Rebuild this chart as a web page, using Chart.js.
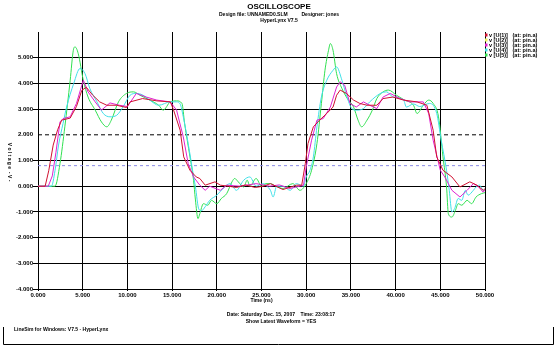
<!DOCTYPE html>
<html>
<head>
<meta charset="utf-8">
<script src="https://cdn.jsdelivr.net/npm/chart.js@4.4.0/dist/chart.umd.min.js"></script>
<style>
  html, body { margin: 0; padding: 0; background: #fff; }
  #scope { display: block; }
</style>
</head>
<body>
<canvas id="scope" width="558" height="350"></canvas>
<script>
// Probe traces, time in ns / voltage in V
const redTime = [0, 0.8, 1.2, 1.7, 2.2, 2.65, 3.6, 4.3, 4.9, 5.4, 6.1, 6.9, 7.7, 8.8, 9.9, 10.3, 11.7, 13.3, 14.8, 15.1, 15.9, 16.3, 17.0, 17.7, 18.1, 18.7, 19.8, 20.4, 21.3, 22.2, 23.2, 24.3, 25.2, 26.0, 27.4, 28.9, 29.5, 29.9, 30.2, 30.8, 31.5, 32.3, 33.0, 33.4, 33.8, 34.5, 35.3, 36.0, 36.8, 37.9, 38.6, 39.7, 40.9, 42.4, 43.5, 44.2, 44.6, 45.3, 46.3, 47.2, 48.3, 49.1, 49.8, 50];
const redVolt = [0, 0, 0.6, 1.6, 2.2, 2.57, 2.65, 3.1, 3.73, 3.85, 3.55, 3.28, 3.15, 3.15, 3.06, 3.28, 3.41, 3.32, 3.28, 3.03, 2.18, 1.14, 0.62, 0.36, 0.3, 0.04, 0.17, 0.04, 0.0, -0.05, 0.05, -0.05, 0.0, 0.1, -0.13, 0.04, 0.04, 0.88, 1.66, 2.31, 2.57, 2.83, 3.08, 3.54, 3.74, 3.61, 3.35, 3.22, 3.15, 3.15, 3.41, 3.47, 3.35, 3.28, 3.15, 2.18, 1.14, 0.62, 0.36, -0.03, 0.17, 0.04, -0.16, -0.1];

const magentaTime = [0, 1.15, 1.6, 2.0, 2.46, 2.8, 3.6, 4.3, 4.9, 5.07, 5.6, 6.4, 7.1, 8.05, 9.1, 10.0, 11.0, 12.1, 13.3, 14.8, 15.5, 16.25, 16.8, 17.4, 18.1, 18.7, 19.2, 20.4, 21.1, 22.6, 24.4, 25.9, 27.0, 28.2, 29.7, 30.0, 30.6, 31.2, 31.9, 32.7, 33.4, 33.8, 34.3, 34.9, 35.6, 36.4, 37.1, 37.9, 38.6, 39.4, 40.5, 41.6, 43.1, 43.7, 44.2, 45.0, 45.5, 46.3, 47.2, 48.0, 48.7, 49.2, 49.8, 50];
const magentaVolt = [0, 0, 0.4, 1.3, 2.5, 2.63, 2.7, 3.22, 3.93, 4.12, 3.67, 3.28, 2.96, 3.24, 3.15, 3.1, 3.61, 3.47, 3.35, 3.28, 2.96, 1.92, 0.88, 0.36, 0.04, -0.16, 0, -0.16, 0.04, 0.0, 0.1, 0.0, 0.05, -0.09, 0.04, 0.75, 1.79, 2.57, 2.63, 3.08, 3.86, 4.06, 3.93, 3.22, 3.08, 3.28, 3.15, 3.02, 3.47, 3.61, 3.41, 3.28, 3.28, 2.83, 1.79, 0.62, 0.36, -0.16, -0.42, -0.16, 0.1, 0, -0.23, -0.15];

const cyanTime = [0, 1.5, 1.9, 2.3, 2.8, 3.2, 4.0, 4.7, 5.26, 5.8, 6.6, 7.3, 8.05, 8.8, 9.5, 10.3, 11.0, 11.7, 12.5, 13.5, 14.8, 15.5, 15.9, 16.25, 16.8, 17.3, 17.6, 18.0, 18.3, 18.7, 19.2, 20.0, 20.7, 21.5, 22.2, 23.0, 23.7, 24.4, 25.2, 25.6, 26.0, 26.3, 26.7, 27.4, 28.2, 28.9, 29.7, 30.0, 30.4, 30.8, 31.2, 31.7, 32.3, 33.0, 33.4, 34.0, 34.5, 35.1, 35.6, 36.4, 37.1, 38.3, 39.0, 39.7, 40.9, 41.2, 42.0, 42.7, 43.8, 44.6, 45.1, 45.7, 46.0, 46.3, 46.6, 47.0, 47.4, 47.8, 48.1, 48.7, 49.0, 49.4, 49.8, 50];
const cyanVolt = [0, 0, 0.6, 1.6, 2.44, 3.08, 4.0, 4.58, 4.38, 3.8, 3.28, 2.83, 2.7, 2.76, 3.08, 3.54, 3.61, 3.55, 3.35, 3.15, 3.28, 3.28, 3.2, 2.7, 1.66, 0.6, 0.0, -0.9, -0.95, -0.8, -0.55, -0.35, -0.09, 0.1, -0.16, 0.23, 0.36, 0, 0.1, 0.0, -0.16, -0.42, 0, 0.0, -0.16, 0.1, 0, 0.36, 0.6, 1.14, 2.31, 3.47, 4.12, 4.51, 4.64, 4.12, 3.54, 3.02, 2.96, 3.02, 3.28, 3.61, 3.67, 3.47, 3.35, 3.08, 3.2, 3.1, 3.22, 2.83, 1.79, 0.62, -0.16, -1.0, -0.87, -0.48, -0.55, -0.16, -0.35, -0.16, -0.03, 0.04, -0.16, -0.1];

const greenTime = [0, 1.9, 2.46, 3.0, 3.6, 3.95, 4.14, 4.5, 5.07, 5.6, 6.4, 7.1, 7.7, 8.2, 9.0, 9.9, 10.7, 11.4, 12.5, 13.5, 14.0, 14.8, 15.5, 16.1, 16.4, 17.0, 17.4, 17.6, 17.9, 18.1, 18.5, 19.0, 19.4, 20.0, 20.5, 21.1, 21.7, 22.0, 22.4, 23.0, 23.4, 23.7, 24.4, 25.0, 25.5, 26.0, 26.6, 27.4, 28.5, 29.3, 30.0, 30.6, 31.2, 31.7, 32.1, 32.5, 32.7, 33.0, 33.4, 34.0, 34.6, 35.3, 35.8, 36.2, 36.8, 37.4, 37.9, 38.6, 39.2, 40.1, 41.0, 42.0, 42.4, 43.1, 43.7, 44.2, 44.8, 45.3, 45.7, 45.9, 46.3, 46.7, 47.0, 47.4, 48.0, 48.5, 49.0, 49.6, 50];
const greenVolt = [0, 0, 0.88, 2.31, 4.12, 5.29, 5.42, 5.16, 4.12, 3.47, 2.96, 2.5, 2.31, 2.57, 3.28, 3.61, 3.67, 3.54, 3.35, 3.15, 2.96, 3.28, 3.32, 3.22, 2.44, 1.14, 0.23, -0.5, -1.26, -1.07, -0.68, -0.74, -0.55, -0.68, -0.48, -0.29, 0.17, 0.3, 0.17, -0.03, 0.23, 0, 0.3, 0.0, 0.1, 0.1, 0.0, -0.09, 0.1, -0.16, 0.1, 0.62, 1.66, 3.22, 4.51, 5.29, 5.55, 5.29, 4.38, 3.8, 3.41, 3.08, 2.57, 2.31, 2.57, 2.96, 3.41, 3.67, 3.74, 3.54, 3.35, 3.15, 2.83, 3.15, 3.35, 3.22, 2.7, 1.14, -0.03, -1.07, -1.2, -0.93, -0.68, -0.74, -0.55, -0.68, -0.42, -0.29, -0.25];

// cursor levels (V) and axis ranges
const cursorHigh = 2.0;
const cursorLow = 0.8;
const timeTicks = [0, 5, 10, 15, 20, 25, 30, 35, 40, 45, 50];
const voltTicks = [-4, -3, -2, -1, 0, 1, 2, 3, 4, 5, 6];

const legendLabels = [
    'v [U(1)]   (at: pin.a)',
    'v [U(2)]   (at: pin.a)',
    'v [U(3)]   (at: pin.a)',
    'v [U(4)]   (at: pin.a)',
    'v [U(5)]   (at: pin.a)'
];
const legendColors = ['#d01030', '#f0f060', '#e020d0', '#40e0e8', '#30e050'];

const toPoints = (t, v) => t.map((x, i) => ({ x: x, y: v[i] }));

const trace = (label, color, t, v, smooth) => ({
    label: label,
    data: toPoints(t, v),
    borderColor: color,
    backgroundColor: color,
    borderWidth: 1,
    pointRadius: 0,
    showLine: true,
    cubicInterpolationMode: smooth ? 'monotone' : 'default',
    tension: 0,
    order: 1
});

const cursor = (level, color, dash) => ({
    label: 'cursor',
    data: [{ x: timeTicks[0], y: level }, { x: timeTicks[timeTicks.length - 1], y: level }],
    borderColor: color,
    borderWidth: 1,
    borderDash: dash,
    pointRadius: 0,
    showLine: true,
    order: 10
});

// titles, legend, axis captions and footer box
const scopeText = {
    id: 'scopeText',
    afterDraw(chart) {
        const ctx = chart.ctx;
        const area = chart.chartArea;
        ctx.save();
        ctx.fillStyle = '#000';
        ctx.textBaseline = 'middle';
        ctx.textAlign = 'center';

        ctx.font = "bold 8px 'Liberation Sans'";
        ctx.fillText('OSCILLOSCOPE', 279, 7);
        ctx.font = "bold 5px 'Liberation Sans'";
        ctx.fillText('Design file: UNNAMED0.SLM          Designer: jones', 279, 15);
        ctx.fillText('HyperLynx V7.5', 279, 20.5);

        ctx.fillText('Time (ns)', (area.left + area.right) / 2, 301);
        ctx.fillText('Date: Saturday Dec. 15, 2007    Time: 23:08:17', 281, 315);
        ctx.fillText('Show Latest Waveform = YES', 281, 322);

        // y caption
        ctx.save();
        ctx.translate(9, 162);
        ctx.rotate(Math.PI / 2);
        ctx.fillText('V o l t a g e  - V -', 0, 0);
        ctx.restore();

        // legend
        ctx.textAlign = 'left';
        ctx.font = "bold 5.5px 'Liberation Sans'";
        legendLabels.forEach((txt, i) => {
            const y = 35 + i * 5;
            ctx.fillStyle = legendColors[i];
            ctx.fillRect(485, y - 1.5, 2.5, 3);
            ctx.fillStyle = '#000';
            ctx.fillText(txt, 489, y);
        });

        // footer box
        ctx.font = "bold 5px 'Liberation Sans'";
        ctx.fillText('LineSim for Windows: V7.5 - HyperLynx', 14, 330);
        ctx.strokeStyle = '#000';
        ctx.lineWidth = 1;
        ctx.beginPath();
        ctx.moveTo(3.5, 327);
        ctx.lineTo(3.5, 344.5);
        ctx.lineTo(553.5, 344.5);
        ctx.lineTo(553.5, 327);
        ctx.stroke();
        ctx.restore();
    }
};

const tickFont = { family: "'Liberation Sans'", size: 6, weight: 'bold' };

new Chart(document.getElementById('scope'), {
    type: 'scatter',
    data: {
        datasets: [
            trace(legendLabels[0], legendColors[0], redTime, redVolt, false),
            trace(legendLabels[2], legendColors[2], magentaTime, magentaVolt, false),
            trace(legendLabels[3], legendColors[3], cyanTime, cyanVolt, true),
            trace(legendLabels[4], legendColors[4], greenTime, greenVolt, true),
            cursor(cursorHigh, '#000000', [4, 3]),
            cursor(cursorLow, '#8c8ce6', [3, 3])
        ]
    },
    options: {
        responsive: false,
        animation: false,
        devicePixelRatio: 1,
        layout: { padding: { top: 32, right: 73, left: 0, bottom: 0 } },
        plugins: { legend: { display: false }, tooltip: { enabled: false } },
        scales: {
            x: {
                type: 'linear',
                min: timeTicks[0],
                max: timeTicks[timeTicks.length - 1],
                afterFit: (s) => { s.height = 61; },
                afterBuildTicks: (s) => { s.ticks = timeTicks.map(v => ({ value: v })); },
                ticks: {
                    font: tickFont,
                    color: '#000',
                    padding: 1,
                    maxRotation: 0,
                    callback: (v) => v.toFixed(3)
                },
                grid: { color: '#000', lineWidth: 1, tickLength: 2 },
                border: { color: '#000', width: 1 }
            },
            y: {
                type: 'linear',
                min: voltTicks[0],
                max: voltTicks[voltTicks.length - 1],
                afterFit: (s) => { s.width = 38; },
                afterBuildTicks: (s) => { s.ticks = voltTicks.map(v => ({ value: v })); },
                ticks: {
                    font: tickFont,
                    color: '#000',
                    padding: 0,
                    callback: (v) => (v === 6 ? '' : v.toFixed(3))
                },
                grid: {
                    color: (c) => (c.tick && (c.tick.value === cursorHigh || c.tick.value === 6) ? 'rgba(0,0,0,0)' : '#000'),
                    lineWidth: 1,
                    tickLength: 5
                },
                border: { color: '#000', width: 1 }
            }
        }
    },
    plugins: [scopeText]
});
</script>
</body>
</html>
